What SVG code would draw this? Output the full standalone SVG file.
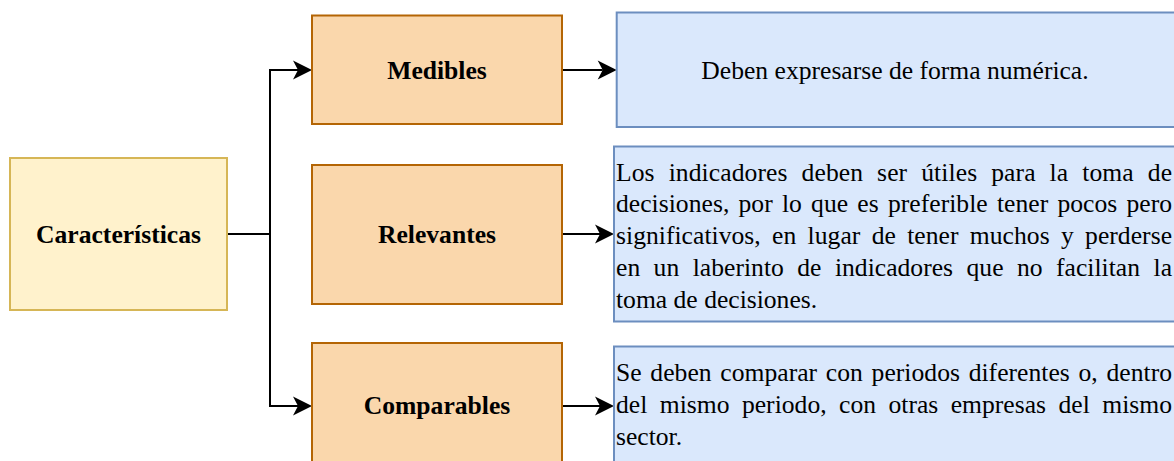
<svg xmlns="http://www.w3.org/2000/svg" width="1174" height="461" viewBox="0 0 1174 461">
<style>
.yel{fill:#fff2cc;stroke:#d6b656;stroke-width:2}
.org{fill:#fad7ac;stroke:#b46504;stroke-width:2}
.blu{fill:#dae8fc;stroke:#6c8ebf;stroke-width:2}
.lbl{font-family:"Liberation Serif","Times New Roman",serif;font-size:25.6px;font-weight:bold;fill:#000;text-anchor:middle}
.txt{font-family:"Liberation Serif","Times New Roman",serif;font-size:25.6px;fill:#000}
.edge{fill:none;stroke:#000;stroke-width:2}
</style>
<defs>
<marker id="arr" markerUnits="userSpaceOnUse" markerWidth="21" markerHeight="20" viewBox="-6 -10 21 20" refX="0" refY="0" orient="auto">
<path d="M-5,-9.5 L14,0 L-5,9.5 L0,0 Z" fill="#000"/>
</marker>
</defs>
<rect width="1174" height="461" fill="#fff"/>
<g id="connectors">
<path class="edge" d="M227,234 H270 V70 H298" marker-end="url(#arr)"/>
<path class="edge" d="M270,234 V406 H298" marker-end="url(#arr)"/>
<path class="edge" d="M562,70 H602.7" marker-end="url(#arr)"/>
<path class="edge" d="M562,234 H600" marker-end="url(#arr)"/>
<path class="edge" d="M562,406 H600" marker-end="url(#arr)"/>
</g>
<g id="caracteristicas">
<rect class="yel" x="10" y="158" width="217" height="152"/>
<text class="lbl" x="118.5" y="242.5">Características</text>
</g>
<g id="medibles">
<rect class="org" x="312" y="15.5" width="250" height="108.5"/>
<text class="lbl" x="437" y="78.5">Medibles</text>
</g>
<g id="relevantes">
<rect class="org" x="312" y="165" width="250" height="139"/>
<text class="lbl" x="437" y="242.5">Relevantes</text>
</g>
<g id="comparables">
<rect class="org" x="312" y="343" width="250" height="130"/>
<text class="lbl" x="437" y="414">Comparables</text>
</g>
<g id="desc-medibles">
<rect class="blu" x="616.7" y="12.5" width="562" height="114.5"/>
<text class="txt" x="895" y="79" text-anchor="middle">Deben expresarse de forma numérica.</text>
</g>
<g id="desc-relevantes">
<rect class="blu" x="614" y="146.5" width="564" height="175"/>
<text class="txt" x="616" y="180.5" word-spacing="7.5" textLength="556" lengthAdjust="spacing">Los indicadores deben ser útiles para la toma de</text>
<text class="txt" x="616" y="212.3" word-spacing="2.8" textLength="556" lengthAdjust="spacing">decisiones, por lo que es preferible tener pocos pero</text>
<text class="txt" x="616" y="244.1" word-spacing="4.9" textLength="556" lengthAdjust="spacing">significativos, en lugar de tener muchos y perderse</text>
<text class="txt" x="616" y="275.9" word-spacing="7" textLength="556" lengthAdjust="spacing">en un laberinto de indicadores que no facilitan la</text>
<text class="txt" x="616" y="307.7">toma de decisiones.</text>
</g>
<g id="desc-comparables">
<rect class="blu" x="614" y="346.5" width="564" height="130"/>
<text class="txt" x="616" y="381" word-spacing="2.3" textLength="556" lengthAdjust="spacing">Se deben comparar con periodos diferentes o, dentro</text>
<text class="txt" x="616" y="413" word-spacing="6" textLength="556" lengthAdjust="spacing">del mismo periodo, con otras empresas del mismo</text>
<text class="txt" x="616" y="445">sector.</text>
</g>
</svg>
